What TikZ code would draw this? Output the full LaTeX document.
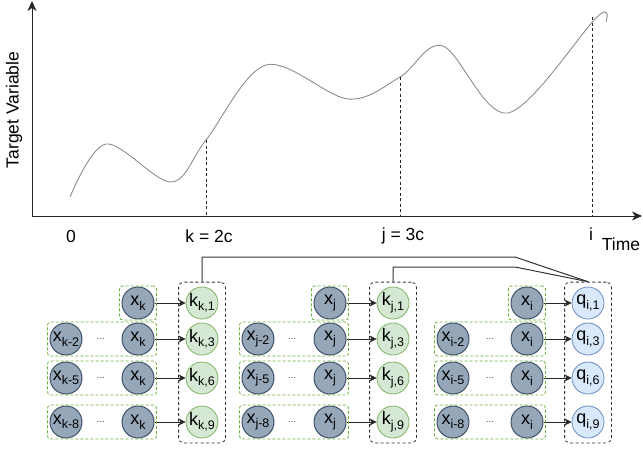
\documentclass[tikz,border=0pt]{standalone}
\usepackage{fontspec}
\setmainfont{Liberation Sans}
\usetikzlibrary{arrows.meta,fit}
\definecolor{xfill}{HTML}{97A7BA}
\definecolor{xdraw}{HTML}{3D5166}
\definecolor{gfill}{HTML}{D5E8D4}
\definecolor{gdraw}{HTML}{82B366}
\definecolor{bfill}{HTML}{DAE8FC}
\definecolor{bdraw}{HTML}{6C8EBF}
\definecolor{boxgreen}{HTML}{6AAF35}
\newcommand\lbl[2]{{\fontsize{18}{18}\selectfont #1}\raisebox{-4.5pt}{\fontsize{12.5}{12.5}\selectfont #2}}
\tikzset{
  xnode/.style={circle, draw=xdraw, fill=xfill, line width=1pt, minimum size=32pt, inner sep=0pt},
  knode/.style={circle, draw=gdraw, fill=gfill, line width=0.8pt, minimum size=32pt, inner sep=0pt},
  qnode/.style={circle, draw=bdraw, fill=bfill, line width=0.8pt, minimum size=32pt, inner sep=0pt},
  dotsnode/.style={inner sep=0pt, text=black!70, font=\fontsize{10}{10}\selectfont},
  gbox/.style={draw=boxgreen, dash pattern=on 3pt off 2pt, rounded corners=3pt, line width=0.8pt, inner xsep=2pt, inner ysep=0.5pt},
  cbox/.style={draw=black!80, dash pattern=on 3pt off 2.5pt, rounded corners=5pt, line width=0.8pt, inner xsep=7pt, inner ysep=4.5pt},
  arr/.style={-{Stealth[length=7pt,width=7pt,inset=2pt]}, line width=0.8pt, black!85},
  conn/.style={line width=1pt, black!80},
  axis/.style={-{Stealth[length=10pt,width=9pt,inset=3pt]}, line width=1pt, black!85},
  guide/.style={dash pattern=on 3pt off 2.5pt, line width=0.8pt, black!85},
  axlbl/.style={font=\fontsize{17.5}{17.5}\selectfont, inner sep=0pt}
}
\begin{document}
\begin{tikzpicture}[x=1pt,y=-1pt]
\useasboundingbox (0,0) rectangle (643,450);
% axes
\coordinate (o) at (32,216);
\coordinate (xe) at (642,216);
\coordinate (ye) at (32,1);
\draw[axis] (o) -- (xe);
\draw[axis] (o) -- (ye);
\node[axlbl, rotate=90] (tv) at (14,110) {Target Variable};
% curve
\draw[black!45, line width=0.9pt] plot[smooth, tension=0.55] coordinates {(70,197) (106,144) (171,182) (206,140) (266,65) (348,99) (400,77) (443,46) (508,113) (597,17) (606,22)};
\coordinate (ck) at (206,140);
\coordinate (cj) at (400,77);
\coordinate (ci) at (592,17);
\draw[guide] (ck) -- (ck |- o);
\draw[guide] (cj) -- (cj |- o);
\draw[guide] (ci) -- (ci |- o);
\node[axlbl] (l0) at (71,236) {0};
\node[axlbl] (lk) at (209,236) {k = 2c};
\node[axlbl] (lj) at (403,236) {j = 3c};
\node[axlbl] (li) at (591,234) {i};
\node[axlbl] (lt) at (621,244) {Time};
% groups
\foreach \g/\cl/\ca/\cb/\cc/\cd/\st in {k/k/66/101/138/202/knode, j/k/258/292/330/393/knode, i/q/453/490/527/588/qnode}{
  \node[xnode] (\g x1) at (\cc,303) {\lbl{x}{\g}};
  \node[\st] (\g c1) at (\cd,303) {\lbl{\cl}{\g,1}};
  \draw[arr] (\g x1) -- (\g c1);
  \node[gbox, fit=(\g x1)] (\g b1) {};
  \foreach \y/\n/\m in {339/2/3, 378/5/6, 422/8/9}{
    \node[xnode] (\g a\m) at (\ca,\y) {\lbl{x}{\g-\n}};
    \node[dotsnode] (\g d\m) at (\cb,\y) {...};
    \node[xnode] (\g x\m) at (\cc,\y) {\lbl{x}{\g}};
    \node[\st] (\g c\m) at (\cd,\y) {\lbl{\cl}{\g,\m}};
    \draw[arr] (\g x\m) -- (\g c\m);
    \node[gbox, fit=(\g a\m)(\g x\m)] (\g b\m) {};
  }
  \node[cbox, fit=(\g c1)(\g c9)] (\g col) {};
}
% connectors to query column
\coordinate (m1) at (515,257);
\coordinate (m2) at (515,267);
\draw[conn] (kcol.north) -- (kcol.north |- m1) -- (m1) -- (icol.north);
\draw[conn] (jcol.north) -- (jcol.north |- m2) -- (m2) -- (icol.north);
\end{tikzpicture}
\end{document}
